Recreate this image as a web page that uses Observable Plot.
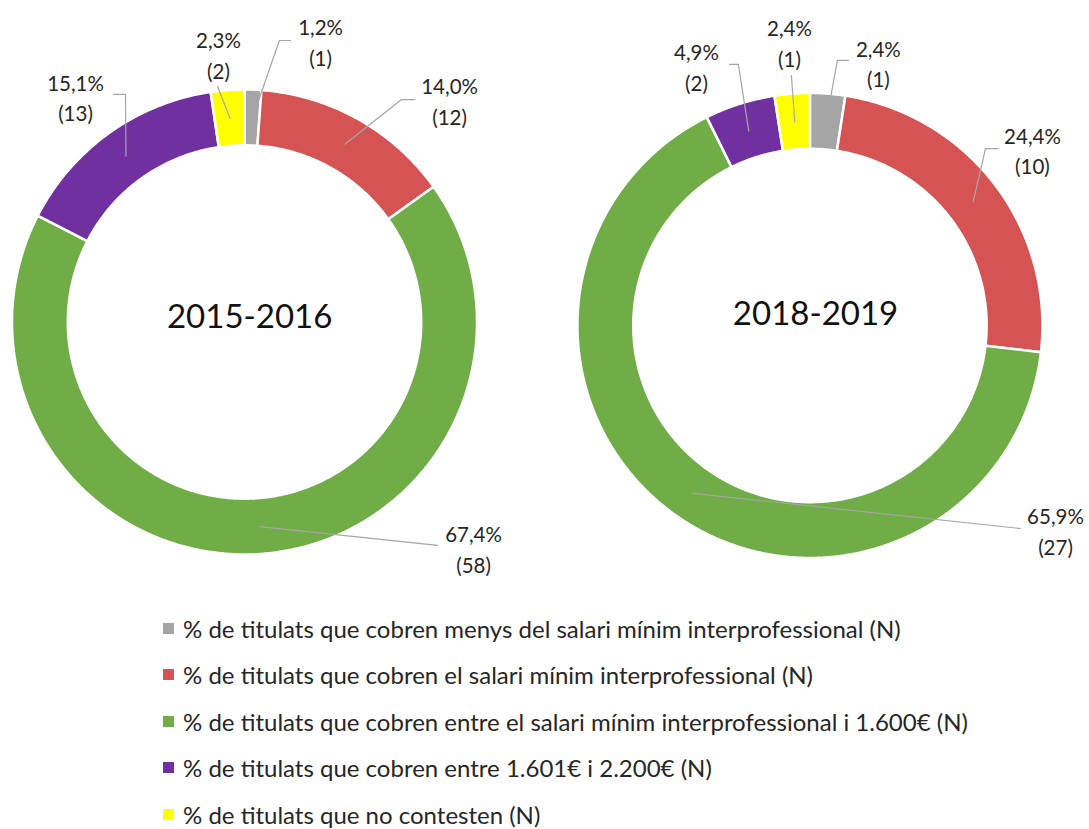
<!DOCTYPE html>
<html>
<head>
<meta charset="utf-8">
<script src="https://cdn.jsdelivr.net/npm/d3@7"></script>
<script src="https://cdn.jsdelivr.net/npm/@observablehq/plot@0.6"></script>
<style>
  body { margin: 0; background: #fff; font-family: Lato, "Open Sans", sans-serif; }
  #legend { padding-left: 163px; }
  .row { height: 46.5px; display: flex; align-items: center; font-size: 24px; color: #262626; white-space: nowrap; }
  .sw { width: 11px; height: 11px; margin-right: 9px; flex: none; }
</style>
</head>
<body>
<div id="chart"></div>
<div id="legend"></div>
<script>
// ---------- data ----------
const categories = [
  "% de titulats que cobren menys del salari mínim interprofessional (N)",
  "% de titulats que cobren el salari mínim interprofessional (N)",
  "% de titulats que cobren entre el salari mínim interprofessional i 1.600€ (N)",
  "% de titulats que cobren entre 1.601€ i 2.200€ (N)",
  "% de titulats que no contesten (N)"
];
const colors = ["#A5A5A5", "#D55353", "#70AD47", "#7030A0", "#FFFF00"];
const periods = ["2015-2016", "2018-2019"];
const counts2015 = [1, 12, 58, 13, 2];
const pct2015 = [1.2, 14.0, 67.4, 15.1, 2.3];
const counts2018 = [1, 10, 27, 2, 1];
const pct2018 = [2.4, 24.4, 65.9, 4.9, 2.4];

// ---------- layout (units of outer radius, relative to each donut centre) ----------
const INNER = 0.76;
const centres = [[0, 0], [2.432, 0.015]];
const titleOffsets = [[0.02, -0.02], [0.022, -0.049]];
const labelPos = [
  [[0.325, -1.213], [0.880, -0.957], [0.983, 0.968], [-0.729, -0.974], [-0.114, -1.157]],
  [[0.292, -1.135], [0.955, -0.761], [1.054, 0.877], [-0.490, -1.120], [-0.090, -1.224]]
];
const leaderPts = [
  [[[0.148, -1.213], [0.196, -1.213]], [[0.673, -0.959], [0.729, -0.959]], [[0.828, 0.959]],
   [[-0.514, -0.981], [-0.566, -0.981]], [[-0.118, -1.015]]],
  [[[0.116, -1.142], [0.163, -1.142]], [[0.753, -0.763], [0.809, -0.763]], [[0.903, 0.871]],
   [[-0.310, -1.125], [-0.348, -1.125]], [[-0.082, -1.077]]]
];

// ---------- geometry derived from data ----------
const countsBy = [counts2015, counts2018];
const pctBy = [pct2015, pct2018];
const fmt = v => d3.format(".1f")(v).replace(".", ",") + "%";

const ringPts = [], leaders = [], labels = [], titles = [];
periods.forEach((p, pi) => {
  const [cx, cy] = centres[pi];
  const arcs = d3.pie().sort(null).value(d => d)(countsBy[pi]);
  arcs.forEach((a, ci) => {
    const key = p + "|" + ci;
    const steps = Math.max(2, Math.ceil((a.endAngle - a.startAngle) / (Math.PI / 360)));
    for (let s = 0; s <= steps; s++) {
      const t = a.startAngle + (a.endAngle - a.startAngle) * s / steps;
      ringPts.push({
        key, cat: categories[ci],
        x1: cx + Math.sin(t), y1: cy - Math.cos(t),
        x2: cx + INNER * Math.sin(t), y2: cy - INNER * Math.cos(t)
      });
    }
    const mid = (a.startAngle + a.endAngle) / 2, rm = (1 + INNER) / 2;
    leaders.push({key, x: cx + rm * Math.sin(mid), y: cy - rm * Math.cos(mid)});
    leaderPts[pi][ci].forEach(([lx, ly]) => leaders.push({key, x: cx + lx, y: cy + ly}));
    const [lx, ly] = labelPos[pi][ci];
    labels.push({x: cx + lx, y: cy + ly, text: fmt(pctBy[pi][ci]) + "\n(" + countsBy[pi][ci] + ")"});
  });
  titles.push({x: cx + titleOffsets[pi][0], y: cy + titleOffsets[pi][1], text: p});
});

const R_PX = 232.5, CX = 244.5, CY = 322;
const chart = Plot.plot({
  width: 1089,
  height: 605,
  margin: 0,
  style: {fontFamily: "Lato, 'Open Sans', sans-serif", background: "white"},
  x: {domain: [-1, 1], range: [CX - R_PX, CX + R_PX], axis: null},
  y: {domain: [-1, 1], range: [CY - R_PX, CY + R_PX], axis: null},
  color: {domain: categories, range: colors},
  marks: [
    Plot.area(ringPts, {x1: "x1", y1: "y1", x2: "x2", y2: "y2", z: "key", fill: "cat", stroke: "white", strokeWidth: 2.5}),
    Plot.line(leaders, {x: "x", y: "y", z: "key", stroke: "#A6A6A6", strokeWidth: 1.2}),
    Plot.text(labels, {x: "x", y: "y", text: "text", fontSize: 20.5, lineHeight: 1.5, fill: "#262626"}),
    Plot.text(titles, {x: "x", y: "y", text: "text", fontSize: 33, fill: "#111"})
  ]
});
document.getElementById("chart").appendChild(chart);

const legend = document.getElementById("legend");
categories.forEach((c, i) => {
  const row = document.createElement("div");
  row.className = "row";
  const sw = document.createElement("span");
  sw.className = "sw";
  sw.style.background = colors[i];
  const tx = document.createElement("span");
  tx.textContent = c;
  row.appendChild(sw);
  row.appendChild(tx);
  legend.appendChild(row);
});
</script>
</body>
</html>
